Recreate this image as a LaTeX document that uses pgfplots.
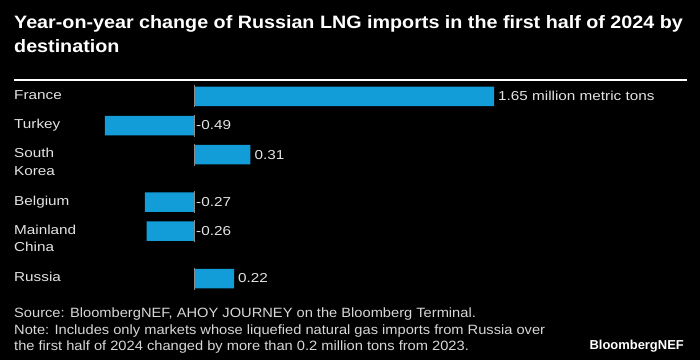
\documentclass[border=0pt]{standalone}
\usepackage{pgfplots}
\pgfplotsset{compat=1.18}
\usepackage{fontspec}
\setmainfont{Liberation Sans}
\newfontfamily\titlefont[FakeStretch=1.10]{Liberation Sans}
\newfontfamily\lblfont[FakeStretch=1.18]{Liberation Sans}
\newfontfamily\footfont[FakeStretch=1.09]{Liberation Sans}
\definecolor{barblue}{RGB}{18,157,216}
\definecolor{lbl}{RGB}{228,228,228}
\definecolor{foot}{RGB}{215,215,215}
\definecolor{zline}{RGB}{140,140,140}
\begin{document}
\begin{tikzpicture}
\useasboundingbox (0,0) rectangle (700bp,360bp);
\fill[black] (0,0) rectangle (700bp,360bp);
% title
\node[anchor=base west, inner sep=0, text=white, font=\titlefont\bfseries\fontsize{18}{24}\selectfont] at (14bp,331bp) {Year-on-year change of Russian LNG imports in the first half of 2024 by};
\node[anchor=base west, inner sep=0, text=white, font=\titlefont\bfseries\fontsize{18}{24}\selectfont] at (14bp,307bp) {destination};
\draw[white, line width=1.3bp] (14bp,280bp) -- (687bp,280bp);
\begin{axis}[
  at={(14bp,60bp)}, anchor=south west,
  width=660bp, height=220bp, scale only axis,
  xmin=-0.99, xmax=2.64, ymin=80, ymax=300,
  y dir=reverse,
  axis line style={draw=none},
  tick style={draw=none},
  major tick length=0pt,
  xtick=\empty,
  ytick={96.3,125.5,154.7,202,231,278.5},
  yticklabels={France,Turkey,{\begin{tabular}[t]{@{}l@{}}South\\Korea\end{tabular}},Belgium,{\begin{tabular}[t]{@{}l@{}}Mainland\\China\end{tabular}},Russia},
  yticklabel style={anchor=base west, inner sep=0pt, xshift=0bp, yshift=-3.2bp, text=lbl, font=\lblfont\fontsize{13}{17.3}\selectfont},
  clip=false,
]
\addplot[xbar, bar width=19.5bp, fill=barblue, draw=none] coordinates {
  (1.65,96.3) (-0.49,125.5) (0.31,154.7) (-0.27,202) (-0.26,231) (0.22,278.5)};
\addplot[color=zline, line width=0.9bp, unbounded coords=jump, mark=none] coordinates {
  (0,85.3) (0,107.3) (0,nan)
  (0,114.5) (0,136.5) (0,nan)
  (0,143.7) (0,165.7) (0,nan)
  (0,191) (0,213) (0,nan)
  (0,220) (0,242) (0,nan)
  (0,267.5) (0,289.5)};
\addplot[draw=none, mark=none, nodes near coords, point meta=explicit symbolic,
  nodes near coords style={anchor=west, inner sep=0pt, xshift=4bp, text=lbl, font=\lblfont\fontsize{13}{15}\selectfont}]
  coordinates {(1.65,96.3) [1.65 million metric tons] (0.31,154.7) [0.31] (0.22,278.5) [0.22]};
\addplot[draw=none, mark=none, nodes near coords, point meta=explicit symbolic,
  nodes near coords style={anchor=west, inner sep=0pt, xshift=2bp, text=lbl, font=\lblfont\fontsize{13}{15}\selectfont}]
  coordinates {(0,125.5) [-0.49] (0,202) [-0.27] (0,231) [-0.26]};
\end{axis}
% footer
\node[anchor=base west, inner sep=0, text=foot, font=\footfont\fontsize{13.5}{16}\selectfont] at (14bp,42.3bp) {Source: BloombergNEF, AHOY JOURNEY on the Bloomberg Terminal.};
\node[anchor=base west, inner sep=0, text=foot, font=\footfont\fontsize{13.5}{16}\selectfont] at (14bp,26bp) {Note: Includes only markets whose liquefied natural gas imports from Russia over};
\node[anchor=base west, inner sep=0, text=foot, font=\footfont\fontsize{13.5}{16}\selectfont] at (14bp,10bp) {the first half of 2024 changed by more than 0.2 million tons from 2023.};
\node[anchor=base east, inner sep=0, text=white, font=\bfseries\fontsize{13}{16}\selectfont] at (684bp,10.7bp) {BloombergNEF};
\end{tikzpicture}
\end{document}
